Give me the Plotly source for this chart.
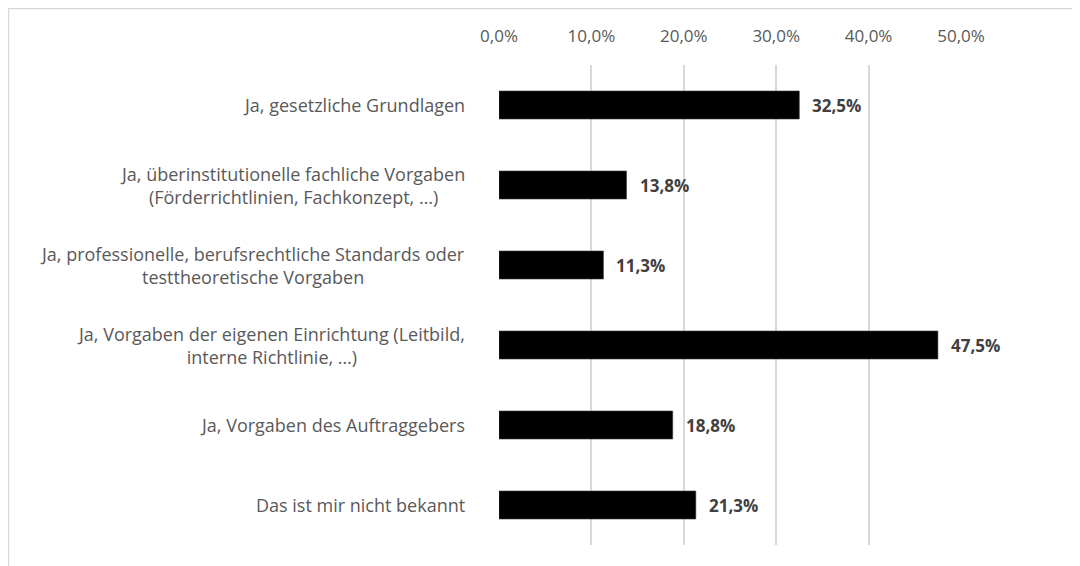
import plotly.graph_objects as go

categories = [
    "Ja, gesetzliche Grundlagen",
    "Ja, überinstitutionelle fachliche Vorgaben<br>(Förderrichtlinien, Fachkonzept, …)",
    "Ja, professionelle, berufsrechtliche Standards oder<br>testtheoretische Vorgaben",
    "Ja, Vorgaben der eigenen Einrichtung (Leitbild,<br>interne Richtlinie, …)",
    "Ja, Vorgaben des Auftraggebers",
    "Das ist mir nicht bekannt",
]
values = [32.5, 13.8, 11.3, 47.5, 18.8, 21.3]
tick_vals = [0, 10, 20, 30, 40, 50]
tick_text = ["0,0%", "10,0%", "20,0%", "30,0%", "40,0%", "50,0%"]

FONT = "Open Sans"
GREY = "#595959"
FS = 17
FS_CAT = 18

fig = go.Figure()
fig.add_trace(go.Bar(
    x=values, y=categories, orientation="h",
    marker=dict(color="#000000", line=dict(color="#3a3a3a", width=0.6)),
    width=0.35, hoverinfo="skip",
))

annotations = []
for c, v in zip(categories, values):
    annotations.append(dict(
        x=0, y=c, xref="x", yref="y", text=c, showarrow=False,
        xanchor="right", yanchor="middle", align="center", xshift=-32,
        font=dict(family=FONT, size=FS_CAT, color=GREY),
    ))
    annotations.append(dict(
        x=v, y=c, xref="x", yref="y", text=f"{v:.1f}%".replace(".", ","),
        showarrow=False, xanchor="left", yanchor="middle", xshift=11,
        font=dict(family=FONT, size=FS, color="#404040", weight="bold"),
    ))

# page body has an 8px margin, so figure pixel = reference pixel - 8
OFF = 8
L, R = 499 - OFF, 961 - OFF
T, B = 65 - OFF, 545 - OFF
W, H = 1080, 566
def px(p):
    return (p - OFF - L) / (R - L)
def py(p):
    return (B - (p - OFF)) / (B - T)

shapes = [
    dict(type="line", xref="paper", yref="paper", x0=px(8), x1=px(1100),
         y0=py(8.5), y1=py(8.5), line=dict(color="#d9d9d9", width=1.5)),
    dict(type="line", xref="paper", yref="paper", x0=px(8.5), x1=px(8.5),
         y0=py(8), y1=py(600), line=dict(color="#d9d9d9", width=1.5)),
]

fig.update_layout(
    width=W, height=H,
    margin=dict(l=L, r=W - R, t=T, b=H - B, pad=0),
    paper_bgcolor="white", plot_bgcolor="white",
    showlegend=False,
    annotations=annotations,
    shapes=shapes,
    xaxis=dict(
        side="top", range=[0, 50], tickvals=tick_vals, ticktext=tick_text,
        showgrid=True, gridcolor="#d9d9d9", gridwidth=1.5,
        zeroline=False, showline=False,
        ticks="", ticklabelstandoff=19,
        tickfont=dict(family=FONT, size=FS, color=GREY),
    ),
    yaxis=dict(
        autorange="reversed", showticklabels=False, showgrid=False,
        zeroline=False, showline=False, ticks="",
    ),
)

fig.write_html("out.html")
